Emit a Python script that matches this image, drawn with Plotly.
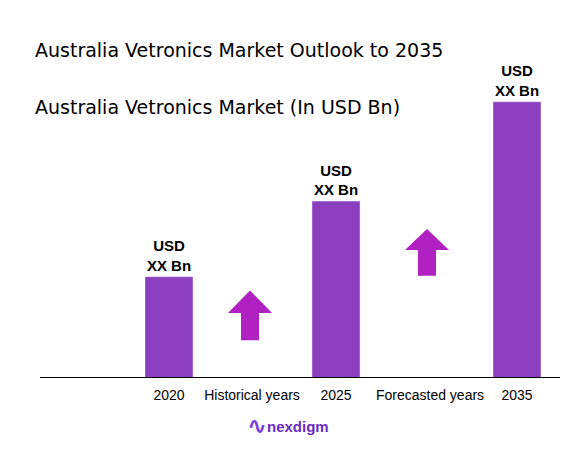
import plotly.graph_objects as go

years = ["2020", "2025", "2035"]
values = [1.02, 1.78, 2.78]
bar_labels = ["USD<br>XX Bn", "USD<br>XX Bn", "USD<br>XX Bn"]
tick_text = ["2020", "Historical years", "2025", "Forecasted years", "2035"]

bar_x = [169, 336, 517]
tick_x = [169, 252, 336, 430, 517]

# page has an 8px body margin, so the plot sits 8px right/down
OFF = 8
L, R, T, B = 40 - OFF, 27 + OFF, 60 - OFF, 74 + OFF
W, H = 587, 452


def px(x, y):
    # target pixel in the screenshot -> paper coords
    return ((x - OFF - L) / (W - L - R), (H - B - (y - OFF)) / (H - T - B))


fig = go.Figure(go.Bar(
    x=bar_x, y=values, width=48, marker_color="#8b3fbe",
    text=bar_labels, textposition="outside", cliponaxis=False,
    texttemplate="<b>%{text}</b>",
    textfont=dict(size=15, color="black", family="Liberation Sans"),
))


def arrow(cx, base, top):
    h = top - base
    return (f"M {cx-9},{base} L {cx+9},{base} L {cx+9},{base+h*0.55} "
            f"L {cx+22},{base+h*0.55} L {cx},{top} L {cx-22},{base+h*0.55} "
            f"L {cx-9},{base+h*0.55} Z")


for cx, base, top in [(250, 0.38, 0.88), (427, 1.03, 1.50)]:
    fig.add_shape(type="path", path=arrow(cx, base, top), fillcolor="#b120c0",
                  line_width=0, xref="x", yref="y")

fig.add_shape(type="line", x0=40, x1=560, y0=0, y1=0, xref="x", yref="y",
              line=dict(color="black", width=2))

texts = [
    ("Australia Vetronics Market Outlook to 2035", 33, 50, "left", 19, "black", "DejaVu Sans"),
    ("Australia Vetronics Market (In USD Bn)", 33, 107, "left", 19, "black", "DejaVu Sans"),
    ("<b>nexdigm</b>", 265, 426, "left", 15, "#6a2bbf", "Liberation Sans"),
    ("<b>∿</b>", 257, 426, "center", 24, "#7a3fe0", "DejaVu Sans"),
]
for t, x, y, anc, size, col, fam in texts:
    ax, ay = px(x, y)
    fig.add_annotation(text=t, x=ax, y=ay, xref="paper", yref="paper",
                       xanchor=anc, yanchor="middle", showarrow=False,
                       font=dict(size=size, color=col, family=fam))

fig.update_layout(
    width=W, height=H, margin=dict(l=L, r=R, t=T, b=B),
    plot_bgcolor="white", paper_bgcolor="white", showlegend=False,
    font=dict(family="Liberation Sans", color="black"),
    xaxis=dict(range=[40, 560], tickvals=tick_x, ticktext=tick_text, showgrid=False,
               zeroline=False, showline=False, tickfont=dict(size=14), ticks="",
               ticklabelstandoff=7),
    yaxis=dict(range=[0, 3.2], visible=False),
)

fig.write_html("out.html")
